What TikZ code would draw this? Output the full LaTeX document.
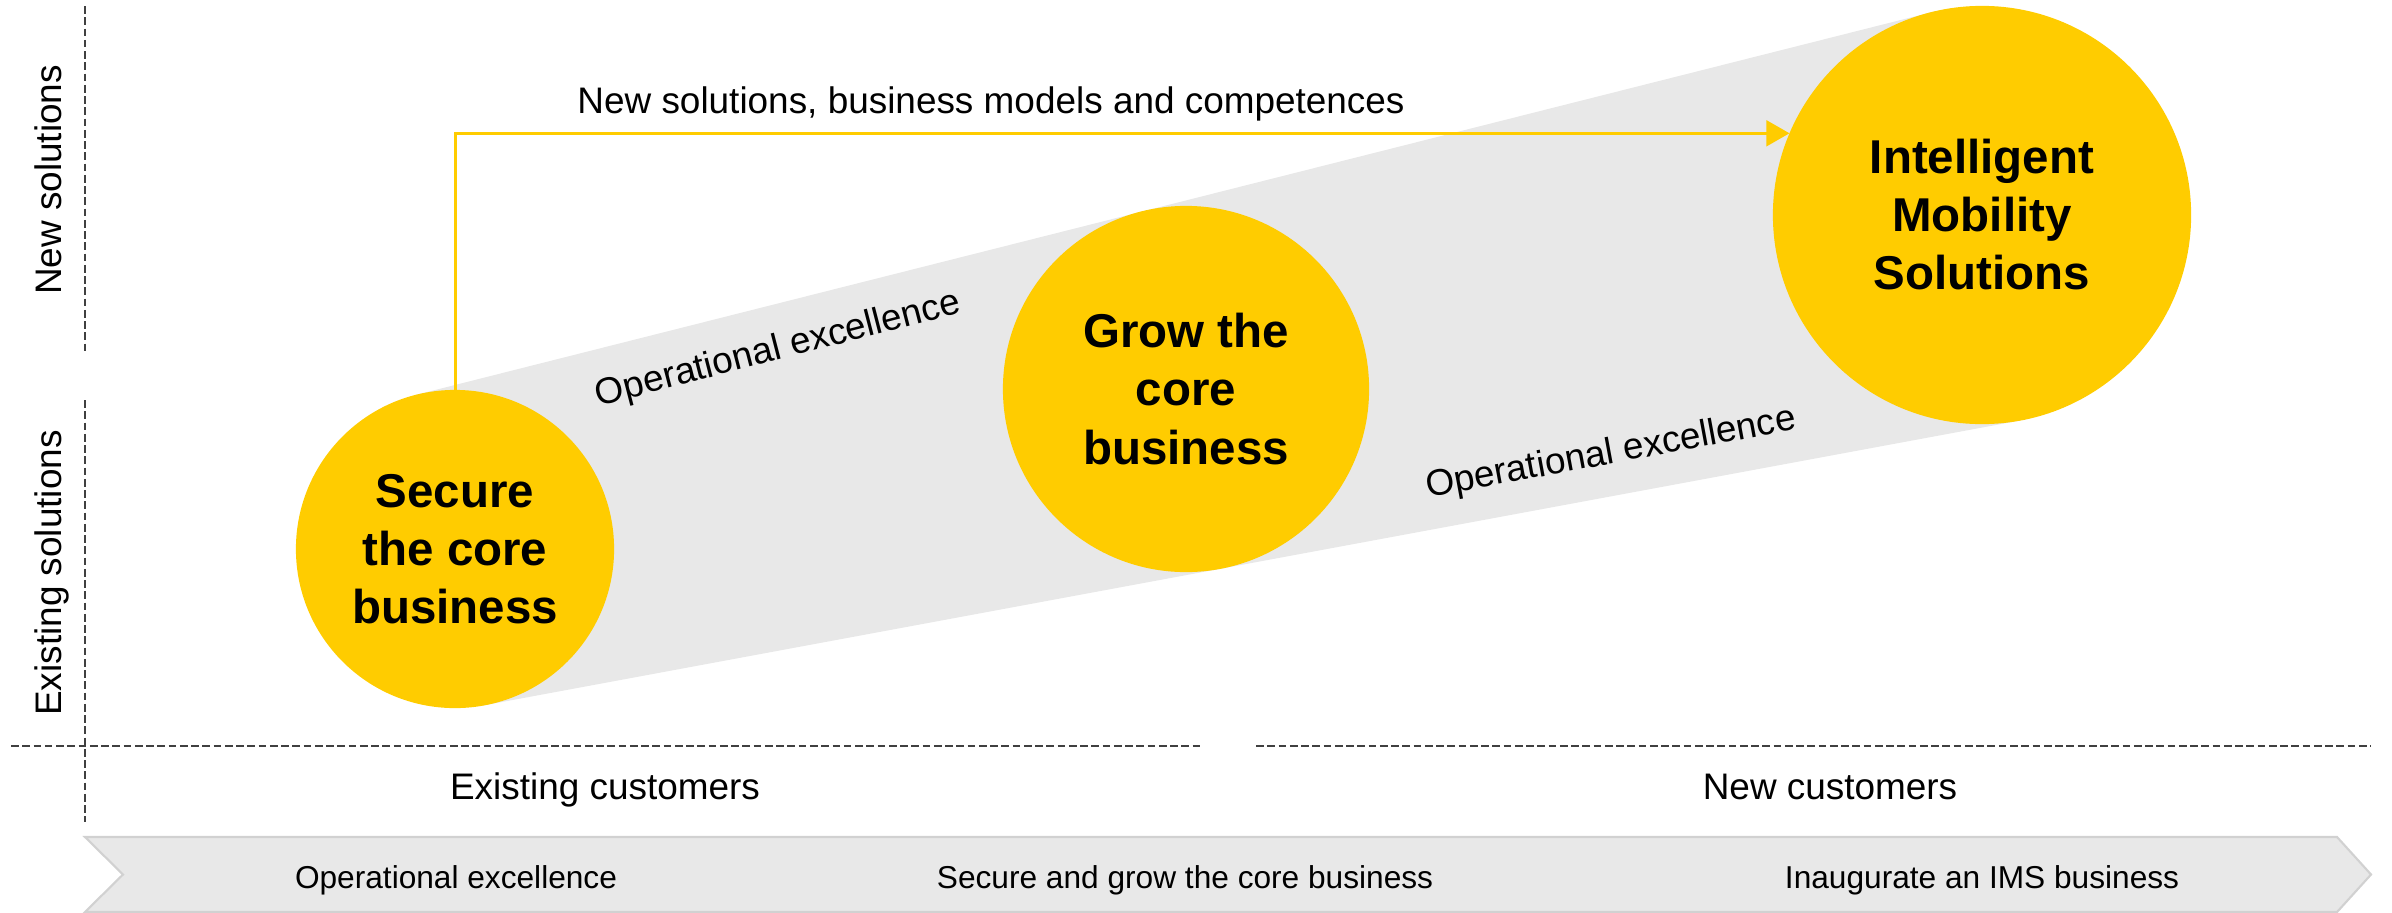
\documentclass[tikz,border=0pt]{standalone}
\usepackage{fontspec}
\setmainfont{Liberation Sans}
\usetikzlibrary{arrows.meta}
\definecolor{imsyellow}{HTML}{FFCC00}
\definecolor{bandgray}{HTML}{E8E8E8}
\begin{document}
\begin{tikzpicture}[x=0.01cm, y=-0.01cm,
    goal/.style={circle, fill=imsyellow, inner sep=0pt, outer sep=0pt, align=center,
                 font=\fontsize{13.5}{16.5}\selectfont\bfseries},
    lbl/.style={font=\fontsize{10.5}{12.6}\selectfont},
    phase/.style={font=\fontsize{9}{11}\selectfont},
    axis/.style={dash pattern=on 2.2pt off 1pt, line width=0.5pt, black!75}]
  \useasboundingbox (0,0) rectangle (2392,912);
  % band between the first and the last circle
  \fill [bandgray] (416.1,394.8) -- (1930.8,12.4) -- (2020.1,420.5) -- (484,705.3) -- cycle;
  \filldraw [fill=bandgray, draw=black!18, line width=0.6pt]
        (85,837) -- (2337,837) -- (2371,874.5) -- (2337,912) -- (85,912) -- (123,874.5) -- cycle;
  \draw [axis] (85,6) -- (85,352) (85,400) -- (85,822)
               (11,746) -- (1203,746) (1256,746) -- (2371,746);
  \node (secure) [goal, minimum size=3.18cm] at (455,549) {Secure\\the core\\business};
  \node (grow) [goal, minimum size=3.66cm] at (1186,389) {Grow the\\core\\business};
  \node (ims) [goal, minimum size=4.18cm] at (1982,215) {Intelligent\\Mobility\\Solutions};
  \draw [imsyellow, line width=0.85pt, -{Triangle[length=6.6pt, width=7.3pt]}]
        (secure.north) |- (ims.157.2);
  \node (newsol) [lbl, anchor=base] at (991,113) {New solutions, business models and competences};
  \node (opup) [lbl, rotate=14.5] at (778,350) {Operational excellence};
  \node (oplow) [lbl, rotate=10.5] at (1611,454) {Operational excellence};
  \node (newsolax) [lbl, rotate=90, anchor=base] at (61,180) {New solutions};
  \node (exsolax) [lbl, rotate=90, anchor=base] at (61,573) {Existing solutions};
  \node (excust) [lbl, anchor=base] at (605,799) {Existing customers};
  \node (newcust) [lbl, anchor=base] at (1830,799) {New customers};
  \node (ph1) [phase, anchor=base] at (456,888) {Operational excellence};
  \node (ph2) [phase, anchor=base] at (1185,888) {Secure and grow the core business};
  \node (ph3) [phase, anchor=base] at (1982,888) {Inaugurate an IMS business};
\end{tikzpicture}
\end{document}
